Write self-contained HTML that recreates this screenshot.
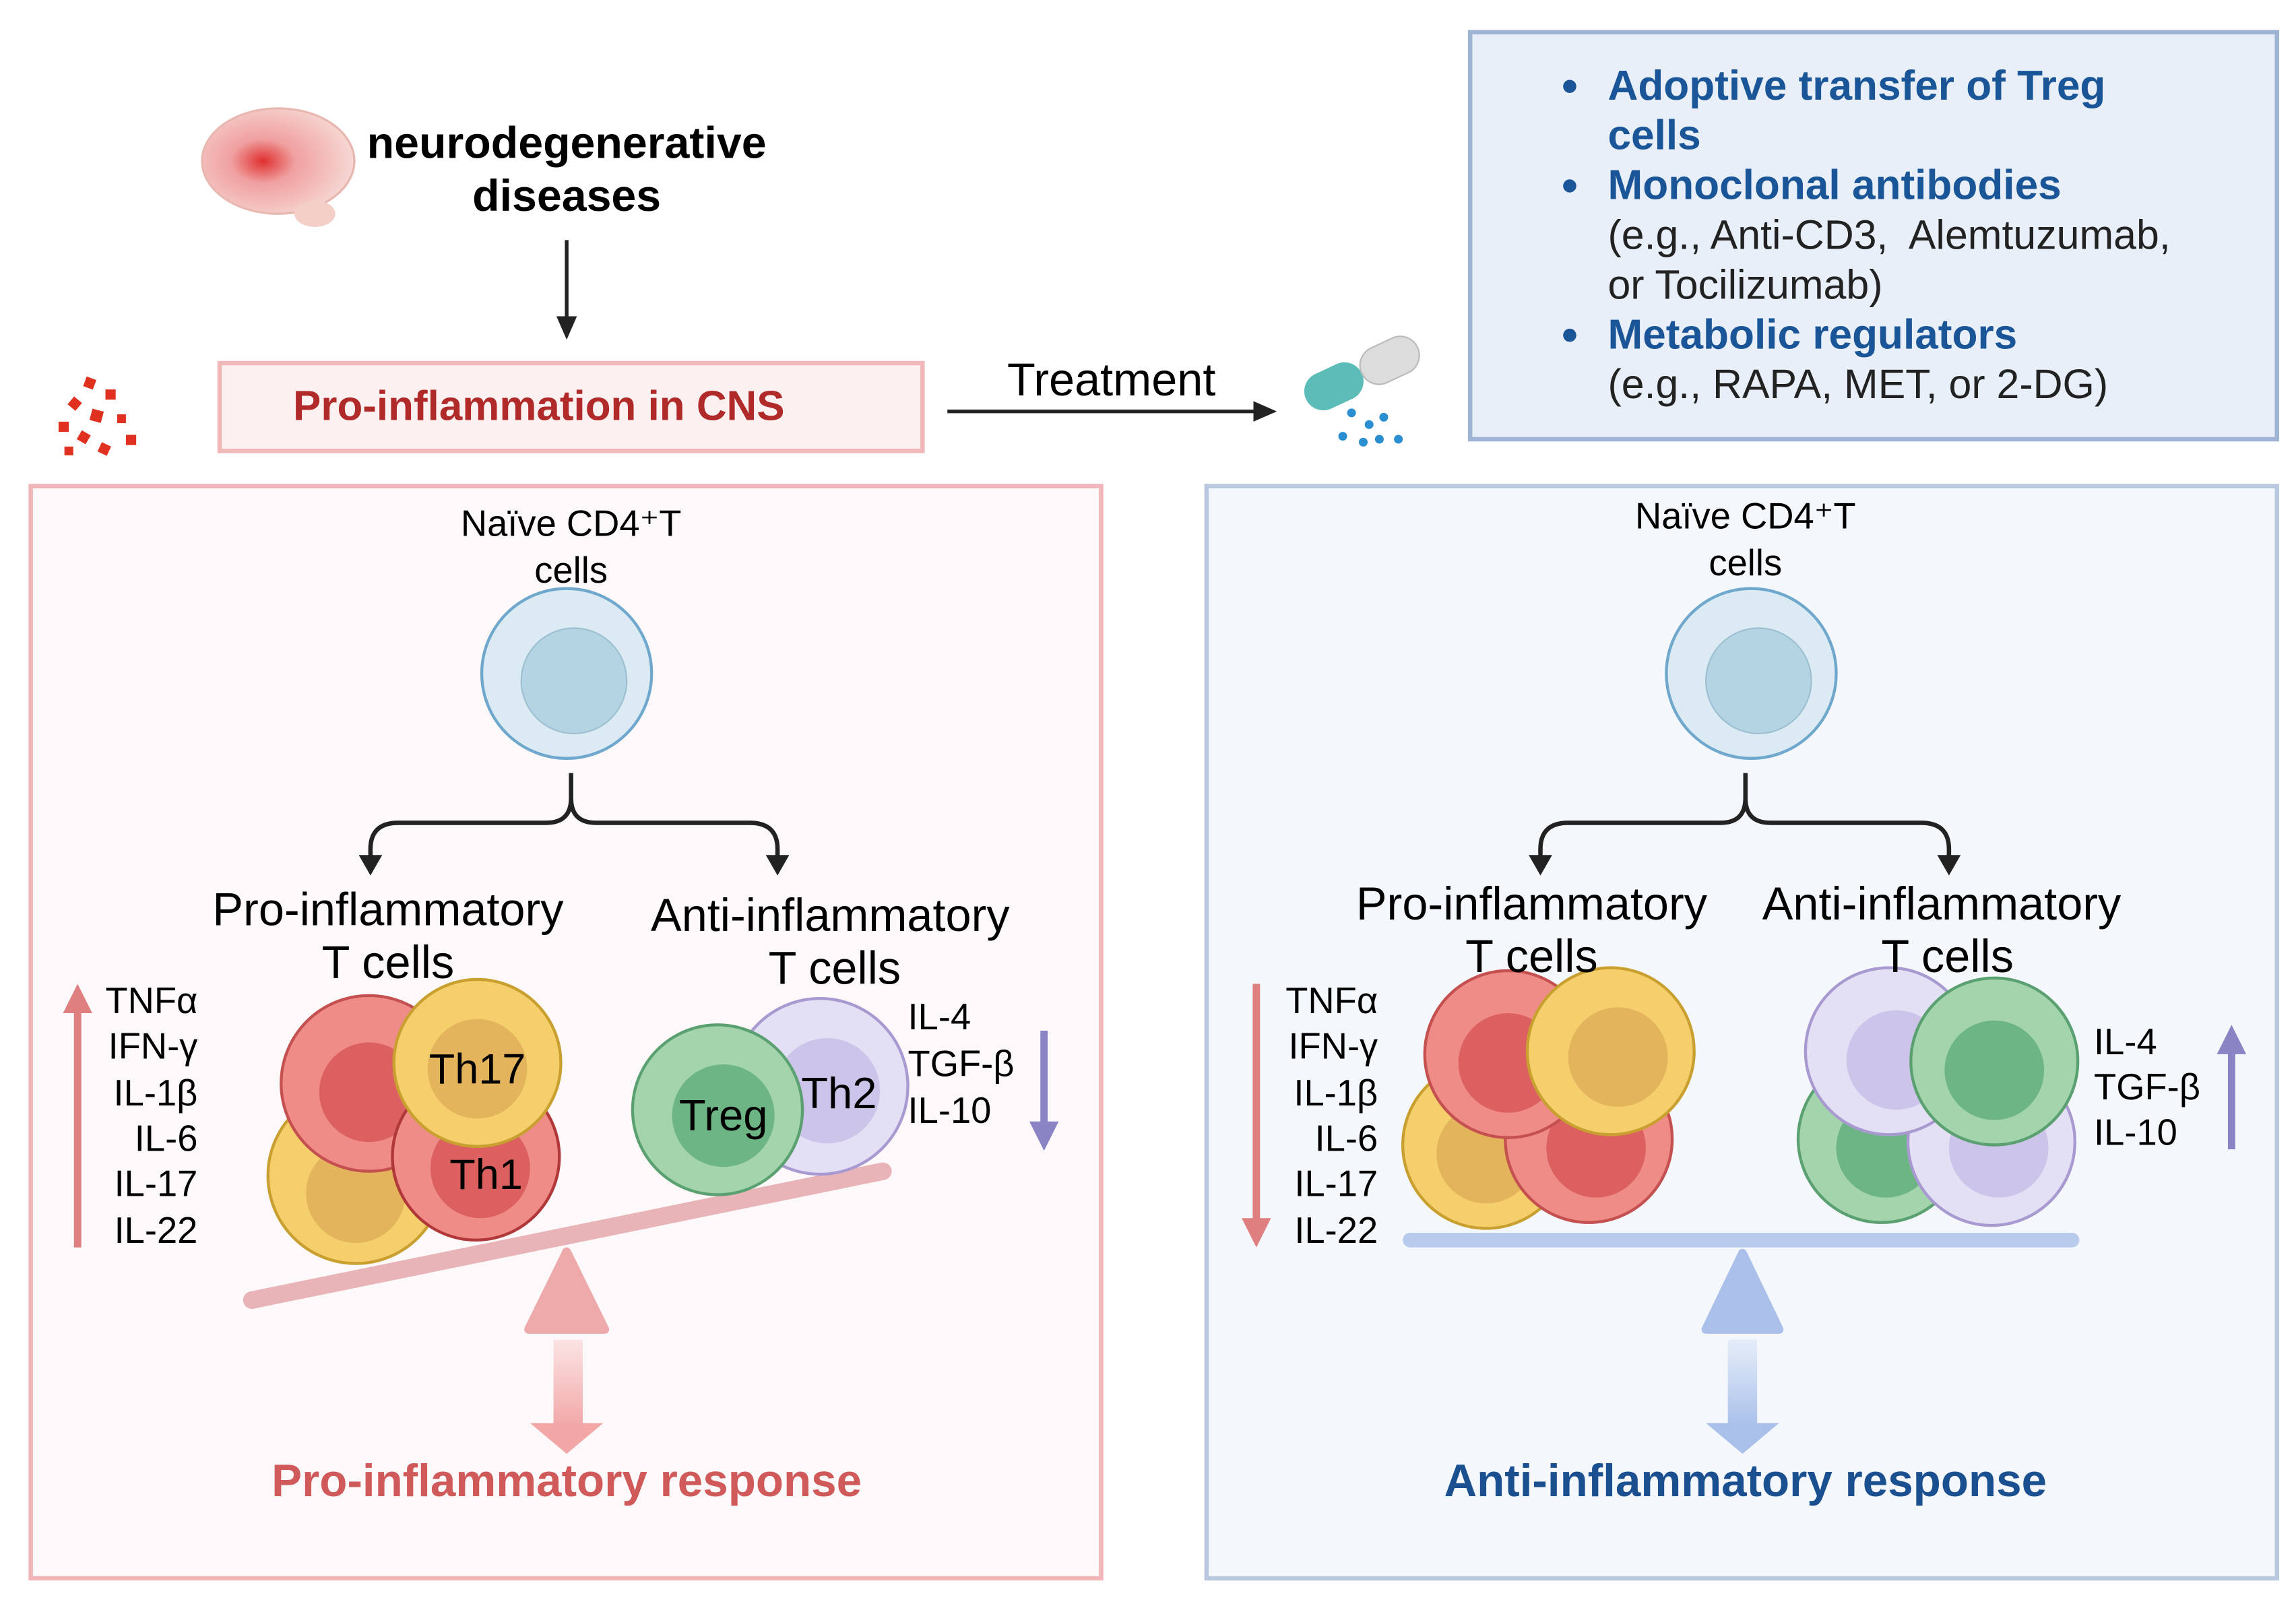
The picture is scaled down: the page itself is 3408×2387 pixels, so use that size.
<!DOCTYPE html>
<html><head><meta charset="utf-8"><style>
html,body{margin:0;padding:0;background:#fff}
svg{display:block}
text{font-family:"Liberation Sans",sans-serif}
</style></head><body>
<svg width="3408" height="2387" viewBox="0 0 1568 1098.3" preserveAspectRatio="none" xmlns="http://www.w3.org/2000/svg">
<defs>
<linearGradient id="gp" x1="0" y1="0" x2="0" y2="1"><stop offset="0" stop-color="#fbe4e4"/><stop offset="1" stop-color="#f2a6a6"/></linearGradient>
<linearGradient id="gb" x1="0" y1="0" x2="0" y2="1"><stop offset="0" stop-color="#e6edf9"/><stop offset="1" stop-color="#a9c0ea"/></linearGradient>
<radialGradient id="brain" cx="0.4" cy="0.5" r="0.6"><stop offset="0" stop-color="#e03030"/><stop offset="0.35" stop-color="#f0a0a0"/><stop offset="1" stop-color="#f6d8d4"/></radialGradient>
</defs>
<rect width="1568" height="1098.3" fill="#fff"/>
<ellipse cx="190" cy="110" rx="52" ry="36" fill="url(#brain)" stroke="#e8b8b0" stroke-width="1.5"/>
<ellipse cx="215" cy="146" rx="14" ry="9" fill="#f3cfc8"/>
<text x="387" y="108" font-size="30.5" font-weight="bold" text-anchor="middle">neurodegenerative</text>
<text x="387" y="144" font-size="30.5" font-weight="bold" text-anchor="middle">diseases</text>
<line x1="387" y1="164" x2="387" y2="220" stroke="#222" stroke-width="2.5"/>
<path d="M380,216 L394,216 L387,232 Z" fill="#222"/>
<rect x="150" y="248" width="480" height="60" fill="#fdf0f0" stroke="#f0b8b8" stroke-width="3"/>
<text x="368" y="287" font-size="28.5" font-weight="bold" fill="#b02a2a" text-anchor="middle">Pro-inflammation in CNS</text>
<g fill="#e03020">
<rect x="58" y="258" width="7" height="7" transform="rotate(20 61 261)"/><rect x="72" y="266" width="7" height="7"/><rect x="48" y="272" width="7" height="7" transform="rotate(40 51 275)"/><rect x="62" y="280" width="8" height="8" transform="rotate(15 66 284)"/><rect x="40" y="288" width="7" height="7"/><rect x="80" y="283" width="6" height="6"/><rect x="54" y="295" width="7" height="7" transform="rotate(30 57 298)"/><rect x="86" y="297" width="7" height="7"/><rect x="68" y="303" width="7" height="7" transform="rotate(25 71 306)"/><rect x="44" y="305" width="6" height="6"/>
</g>
<text x="759" y="270" font-size="31.5" text-anchor="middle">Treatment</text>
<line x1="647" y1="281" x2="858" y2="281" stroke="#222" stroke-width="2.5"/>
<path d="M856,274 L872,281 L856,288 Z" fill="#222"/>
<g transform="rotate(-25 930 255)"><rect x="888" y="242" width="42" height="26" rx="13" fill="#5bbcb8"/><rect x="930" y="242" width="42" height="26" rx="13" fill="#dcdcdc" stroke="#bbb"/></g>
<g fill="#2a8fd0"><circle cx="923" cy="282" r="3"/><circle cx="935" cy="290" r="3"/><circle cx="945" cy="285" r="3"/><circle cx="917" cy="298" r="3"/><circle cx="931" cy="302" r="3"/><circle cx="955" cy="300" r="3"/><circle cx="942" cy="300" r="3"/></g>
<rect x="1004" y="22" width="551" height="278" fill="#e8eff8" stroke="#9fb4d4" stroke-width="3"/>
<g font-size="28.6" fill="#1a5598">
<circle cx="1072" cy="59" r="4.5"/><circle cx="1072" cy="127" r="4.5"/><circle cx="1072" cy="229" r="4.5"/>
<text x="1098" y="68" font-weight="bold">Adoptive transfer of Treg</text>
<text x="1098" y="102" font-weight="bold">cells</text>
<text x="1098" y="136" font-weight="bold">Monoclonal antibodies</text>
<text x="1098" y="238" font-weight="bold">Metabolic regulators</text>
</g>
<g font-size="28" fill="#222">
<text x="1098" y="170" xml:space="preserve">(e.g., Anti-CD3,  Alemtuzumab,</text>
<text x="1098" y="204">or Tocilizumab)</text>
<text x="1098" y="272">(e.g., RAPA, MET, or 2-DG)</text>
</g>
<rect x="21" y="332" width="731" height="746" fill="#fdf9fa" stroke="#f0b5b8" stroke-width="3"/>
<rect x="824" y="332" width="731" height="746" fill="#f4f8fc" stroke="#b8c8de" stroke-width="3"/>

<text x="390" y="366" font-size="25" text-anchor="middle">Naïve CD4⁺T</text>
<text x="390" y="398" font-size="25" text-anchor="middle">cells</text>
<circle cx="387" cy="460" r="58" fill="#dcebf3" stroke="#6fa8cc" stroke-width="2"/>
<circle cx="392" cy="465" r="36" fill="#b4d4e2" stroke="#9cc0d2"/>
<path d="M390,528 V545 Q390,562 373,562 H272 Q253,562 253,580 V588 M390,545 Q390,562 407,562 H512 Q531,562 531,580 V588" fill="none" stroke="#222" stroke-width="3"/>
<path d="M245,584 L261,584 L253,598 Z M523,584 L539,584 L531,598 Z" fill="#222"/>
<text x="265" y="632" font-size="31.5" text-anchor="middle">Pro-inflammatory</text>
<text x="265" y="668" font-size="31.5" text-anchor="middle">T cells</text>
<text x="567" y="636" font-size="31.5" text-anchor="middle">Anti-inflammatory</text>
<text x="570" y="672" font-size="31.5" text-anchor="middle">T cells</text>
<line x1="53" y1="852" x2="53" y2="688" stroke="#e07f80" stroke-width="5"/>
<path d="M43,692 L63,692 L53,672 Z" fill="#e07f80"/>
<g font-size="25" text-anchor="end"><text x="135" y="692">TNFα</text><text x="135" y="723">IFN-γ</text><text x="135" y="755">IL-1β</text><text x="135" y="786">IL-6</text><text x="135" y="817">IL-17</text><text x="135" y="849">IL-22</text></g>
<line x1="172" y1="888" x2="603" y2="800" stroke="#e8b4b8" stroke-width="12" stroke-linecap="round"/>
<circle cx="243" cy="803" r="60" fill="#f5cf6c" stroke="#c9a030" stroke-width="2"/><circle cx="243" cy="815" r="34" fill="#e3b45c"/>
<circle cx="252" cy="740" r="60" fill="#ef8c88" stroke="#c45050" stroke-width="2"/><circle cx="252" cy="746" r="34" fill="#dc6060"/>
<circle cx="325" cy="790" r="57" fill="#ef8c88" stroke="#b03838" stroke-width="2"/><circle cx="328" cy="798" r="34" fill="#dc6060"/>
<circle cx="326" cy="726" r="57" fill="#f5cf6c" stroke="#c9a030" stroke-width="2"/><circle cx="326" cy="730" r="34" fill="#e3b45c"/>
<text x="326" y="740" font-size="29" text-anchor="middle">Th17</text>
<text x="332" y="812" font-size="29" text-anchor="middle">Th1</text>
<circle cx="560" cy="742" r="60" fill="#e3e0f5" stroke="#a89ad0" stroke-width="2"/><circle cx="565" cy="745" r="36" fill="#cdc4ea"/>
<circle cx="490" cy="758" r="58" fill="#a3d4ac" stroke="#5aa070" stroke-width="2"/><circle cx="494" cy="762" r="35" fill="#6db585"/>
<text x="494" y="772" font-size="30" text-anchor="middle">Treg</text>
<text x="573" y="757" font-size="30" text-anchor="middle">Th2</text>
<g font-size="25"><text x="620" y="703">IL-4</text><text x="620" y="735">TGF-β</text><text x="620" y="767">IL-10</text></g>
<line x1="713" y1="704" x2="713" y2="770" stroke="#8a84c4" stroke-width="5"/>
<path d="M703,766 L723,766 L713,786 Z" fill="#8a84c4"/>
<path d="M387,855 L413,908 L361,908 Z" fill="#eeaaaa" stroke="#eeaaaa" stroke-width="6" stroke-linejoin="round"/>
<rect x="378" y="915" width="20" height="60" fill="url(#gp)"/>
<path d="M362,972 L412,972 L387,993 Z" fill="#f2a6a6"/>
<text x="387" y="1022" font-size="31" font-weight="bold" fill="#d05a5a" text-anchor="middle">Pro-inflammatory response</text>

<text x="1192" y="361" font-size="25" text-anchor="middle">Naïve CD4⁺T</text>
<text x="1192" y="393" font-size="25" text-anchor="middle">cells</text>
<circle cx="1196" cy="460" r="58" fill="#dcebf3" stroke="#6fa8cc" stroke-width="2"/>
<circle cx="1201" cy="465" r="36" fill="#b4d4e2" stroke="#9cc0d2"/>
<path d="M1192,528 V545 Q1192,562 1175,562 H1071 Q1052,562 1052,580 V588 M1192,545 Q1192,562 1209,562 H1312 Q1331,562 1331,580 V588" fill="none" stroke="#222" stroke-width="3"/>
<path d="M1044,584 L1060,584 L1052,598 Z M1323,584 L1339,584 L1331,598 Z" fill="#222"/>
<text x="1046" y="628" font-size="31.5" text-anchor="middle">Pro-inflammatory</text>
<text x="1326" y="628" font-size="31.5" text-anchor="middle">Anti-inflammatory</text>
<line x1="858" y1="672" x2="858" y2="836" stroke="#e07f80" stroke-width="5"/>
<path d="M848,832 L868,832 L858,852 Z" fill="#e07f80"/>
<g font-size="25" text-anchor="end"><text x="941" y="692">TNFα</text><text x="941" y="723">IFN-γ</text><text x="941" y="755">IL-1β</text><text x="941" y="786">IL-6</text><text x="941" y="817">IL-17</text><text x="941" y="849">IL-22</text></g>
<circle cx="1015" cy="782" r="57" fill="#f5cf6c" stroke="#c9a030" stroke-width="2"/><circle cx="1015" cy="788" r="34" fill="#e3b45c"/>
<circle cx="1085" cy="778" r="57" fill="#ef8c88" stroke="#c45050" stroke-width="2"/><circle cx="1090" cy="784" r="34" fill="#dc6060"/>
<circle cx="1030" cy="720" r="57" fill="#ef8c88" stroke="#c45050" stroke-width="2"/><circle cx="1030" cy="726" r="34" fill="#dc6060"/>
<circle cx="1100" cy="718" r="57" fill="#f5cf6c" stroke="#c9a030" stroke-width="2"/><circle cx="1105" cy="722" r="34" fill="#e3b45c"/>
<text x="1046" y="664" font-size="31.5" text-anchor="middle">T cells</text>
<circle cx="1285" cy="778" r="57" fill="#a3d4ac" stroke="#5aa070" stroke-width="2"/><circle cx="1288" cy="784" r="34" fill="#6db585"/>
<circle cx="1360" cy="780" r="57" fill="#e3e0f5" stroke="#a89ad0" stroke-width="2"/><circle cx="1365" cy="784" r="34" fill="#cdc4ea"/>
<circle cx="1290" cy="718" r="57" fill="#e3e0f5" stroke="#a89ad0" stroke-width="2"/><circle cx="1295" cy="724" r="34" fill="#cdc4ea"/>
<circle cx="1362" cy="725" r="57" fill="#a3d4ac" stroke="#5aa070" stroke-width="2"/><circle cx="1362" cy="731" r="34" fill="#6db585"/>
<text x="1330" y="664" font-size="31.5" text-anchor="middle">T cells</text>
<line x1="963" y1="847" x2="1415" y2="847" stroke="#b8cbed" stroke-width="10" stroke-linecap="round"/>
<g font-size="25"><text x="1430" y="720">IL-4</text><text x="1430" y="751">TGF-β</text><text x="1430" y="782">IL-10</text></g>
<line x1="1524" y1="785" x2="1524" y2="718" stroke="#8a84c4" stroke-width="5"/>
<path d="M1514,720 L1534,720 L1524,700 Z" fill="#8a84c4"/>
<path d="M1190,856 L1215,908 L1165,908 Z" fill="#aac0ea" stroke="#aac0ea" stroke-width="6" stroke-linejoin="round"/>
<rect x="1180" y="915" width="20" height="60" fill="url(#gb)"/>
<path d="M1165,972 L1215,972 L1190,993 Z" fill="#a9c0ea"/>
<text x="1192" y="1022" font-size="31" font-weight="bold" fill="#1a4f90" text-anchor="middle">Anti-inflammatory response</text>
</svg>
</body></html>
